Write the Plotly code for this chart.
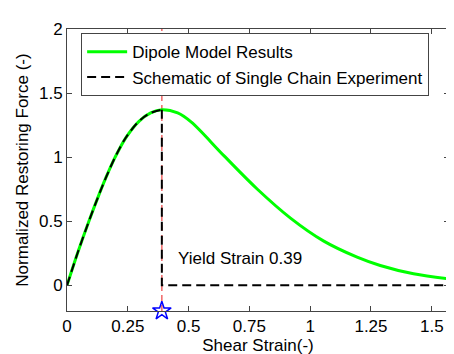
import plotly.graph_objects as go

# Dipole model curve
strain = [0, 0.045, 0.09, 0.13, 0.16, 0.198, 0.243, 0.296, 0.344, 0.39, 0.455, 0.51,
          0.646, 0.783, 0.919, 1.056, 1.193, 1.288, 1.425, 1.5708]
force = [0, 0.26, 0.5, 0.7, 0.84, 1.0, 1.155, 1.28, 1.345, 1.37, 1.345, 1.275,
         1.01, 0.75, 0.525, 0.345, 0.22, 0.155, 0.09, 0.05]

yield_strain = 0.39
x_max = 1.5708
y_min, y_max = -0.2, 2.0

x_ticks = [0, 0.25, 0.5, 0.75, 1, 1.25, 1.5]
x_labels = ["0", "0.25", "0.5", "0.75", "1", "1.25", "1.5"]
y_ticks = [0, 0.5, 1, 1.5, 2]
y_labels = ["0", "0.5", "1", "1.5", "2"]

n_pre = strain.index(yield_strain) + 1
schem_x1 = strain[:n_pre]
schem_y1 = force[:n_pre]
schem_x2 = [yield_strain, yield_strain, x_max]
schem_y2 = [force[n_pre - 1], 0, 0]

FONT = "Liberation Sans, Arial, sans-serif"
FS = 17

fig = go.Figure()
# red yield line
fig.add_trace(go.Scatter(x=[yield_strain, yield_strain], y=[y_min, y_max], mode="lines",
                         line=dict(color="#f06666", width=1.5, dash="6px,4px"),
                         showlegend=False, hoverinfo="skip"))
fig.add_trace(go.Scatter(x=strain, y=force, mode="lines", name="Dipole Model Results",
                         line=dict(color="#00ff00", width=3, shape="spline")))
fig.add_trace(go.Scatter(x=schem_x1, y=schem_y1, mode="lines",
                         name="Schematic of Single Chain Experiment",
                         legendgroup="s",
                         line=dict(color="black", width=2, dash="9px,5px", shape="spline")))
fig.add_trace(go.Scatter(x=schem_x2, y=schem_y2, mode="lines", legendgroup="s",
                         showlegend=False,
                         line=dict(color="black", width=2, dash="9px,5px")))
fig.add_trace(go.Scatter(x=[yield_strain], y=[y_min], mode="markers", showlegend=False,
                         marker=dict(symbol="star-open", size=14, color="blue",
                                     line=dict(width=1.5, color="blue")),
                         cliponaxis=False))

fig.add_annotation(x=0.45, y=0.21, text="Yield Strain 0.39", showarrow=False,
                   xanchor="left", yanchor="middle",
                   font=dict(family=FONT, size=FS, color="black"))

axis_common = dict(showline=True, linecolor="#444", linewidth=1, mirror="ticks",
                   ticks="inside", ticklen=5, tickcolor="#444", showgrid=False,
                   zeroline=False, tickfont=dict(family=FONT, size=FS, color="black"))

fig.update_layout(
    width=454, height=354,
    margin=dict(l=59, r=12, t=18, b=49),
    plot_bgcolor="white", paper_bgcolor="white",
    font=dict(family=FONT, size=FS, color="black"),
    xaxis=dict(range=[0, x_max], tickvals=x_ticks, ticktext=x_labels,
               title=dict(text="Shear Strain(-)", font=dict(family=FONT, size=FS), standoff=2),
               **axis_common),
    yaxis=dict(range=[y_min, y_max], tickvals=y_ticks, ticktext=y_labels,
               title=dict(text="Normalized Restoring Force (-)", font=dict(family=FONT, size=FS),
                          standoff=6),
               **axis_common),
    legend=dict(x=0.037, y=0.985, xanchor="left", yanchor="top",
                bordercolor="#444", borderwidth=1, bgcolor="white",
                font=dict(family=FONT, size=FS), tracegroupgap=0,
                itemwidth=40),
    showlegend=True,
)

fig.write_html("out.html")
